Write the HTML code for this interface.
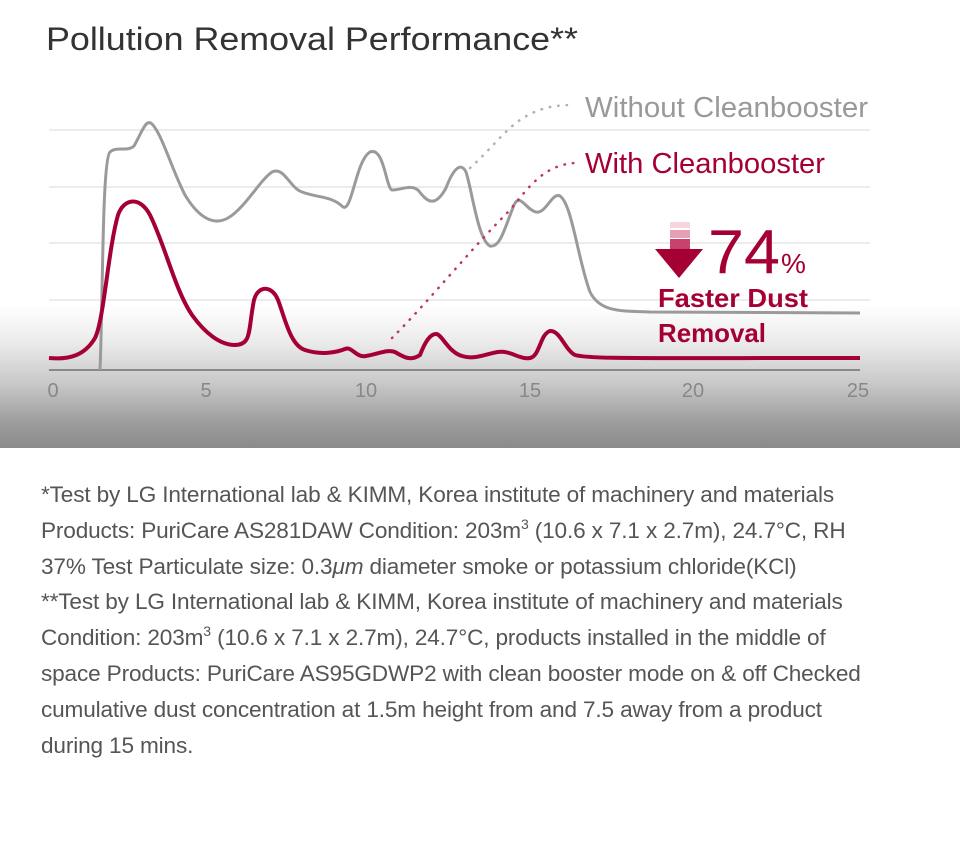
<!DOCTYPE html>
<html><head><meta charset="utf-8"><style>
body{margin:0;width:960px;height:864px;background:#fff;position:relative;overflow:hidden;font-family:"Liberation Sans",sans-serif}
.grad{position:absolute;left:0;top:305px;width:960px;height:143px;background:linear-gradient(#fff 0%,#ececec 25%,#c8c8c8 55%,#a0a0a0 80%,#8a8a8a 100%)}
svg{position:absolute;left:0;top:0}
.notes{position:absolute;left:41px;top:477px;font-size:22.6px;line-height:35.8px;color:#555;white-space:nowrap;letter-spacing:-0.15px}
sup{font-size:14px;vertical-align:0;position:relative;top:-9px;line-height:0}
</style></head><body>
<div class="grad"></div>
<svg width="960" height="450" viewBox="0 0 960 450">
<text x="46" y="50" font-size="32" fill="#333" font-family="Liberation Sans" textLength="532" lengthAdjust="spacingAndGlyphs">Pollution Removal Performance**</text>
<g stroke="#e6e6e6" stroke-width="1.5">
<line x1="49" y1="130" x2="870" y2="130"/><line x1="49" y1="187" x2="870" y2="187"/>
<line x1="49" y1="243" x2="870" y2="243"/><line x1="49" y1="300" x2="870" y2="300"/>
</g>
<line x1="49" y1="370" x2="860" y2="370" stroke="#888" stroke-width="2"/>
<g font-size="20" fill="#888" text-anchor="middle">
<text x="53" y="397">0</text><text x="206" y="397">5</text><text x="366" y="397">10</text>
<text x="530" y="397">15</text><text x="693" y="397">20</text><text x="858" y="397">25</text>
</g>
<path d="M100,370 C103,300 102,160 110,152 C116,146 128,152 134,146 C142,132 146,118 152,124 C162,134 172,170 185,195 C197,215 212,227 228,218 C245,208 260,180 272,172 C284,166 290,188 302,192 C318,198 332,196 343,207 C352,212 356,160 370,152 C384,146 386,188 392,190 C402,190 410,184 418,190 C426,200 434,210 446,188 C452,172 460,160 466,172 C472,190 478,240 490,246 C500,248 504,230 514,205 C520,192 526,210 536,212 C546,214 552,192 560,196 C572,204 578,260 590,292 C600,312 620,311 650,312 L860,313" fill="none" stroke="#9a9a9a" stroke-width="3"/>
<path d="M49,358 C70,360 85,355 95,338 C104,320 108,250 118,215 C124,198 140,196 150,215 C165,245 175,290 192,315 C205,333 220,345 235,345 C252,345 248,330 254,300 C258,285 272,285 278,300 C285,318 290,345 305,350 C320,355 335,353 345,349 C352,346 356,358 366,356 C378,354 388,349 395,352 C402,356 410,362 420,355 C425,342 430,334 436,334 C442,334 448,352 462,356 C475,360 485,354 498,352 C510,350 520,360 530,358 C540,356 540,334 550,331 C560,330 565,350 575,355 C590,359 620,358 860,358" fill="none" stroke="#a50034" stroke-width="4"/>
<path d="M470,168 C490,150 505,130 520,120 C535,110 550,105 572,105" fill="none" stroke="#b0b0b0" stroke-width="2.5" stroke-dasharray="0.5 8" stroke-linecap="round"/>
<path d="M392,338 C430,300 470,250 510,210 C530,185 545,165 575,163" fill="none" stroke="#c0336a" stroke-width="2.5" stroke-dasharray="0.5 8" stroke-linecap="round"/>
<text x="585" y="117" font-size="29" fill="#999" textLength="283" lengthAdjust="spacingAndGlyphs">Without Cleanbooster</text>
<text x="585" y="173" font-size="29" fill="#a50034" textLength="240" lengthAdjust="spacingAndGlyphs">With Cleanbooster</text>
<rect x="670" y="222" width="20" height="6" fill="#f5d5de"/>
<rect x="670" y="230" width="20" height="8" fill="#e6a0b5"/>
<rect x="670" y="239" width="20" height="10" fill="#c8426e"/>
<polygon points="655,249 703,249 679,278" fill="#a50034"/>
<text x="708" y="273" font-size="62" fill="#a50034" textLength="72" lengthAdjust="spacingAndGlyphs">74</text>
<text x="781" y="273" font-size="28" fill="#a50034">%</text>
<text x="658" y="307" font-size="26" font-weight="bold" fill="#a50034" textLength="150" lengthAdjust="spacingAndGlyphs">Faster Dust</text>
<text x="658" y="342" font-size="26" font-weight="bold" fill="#a50034" textLength="108" lengthAdjust="spacingAndGlyphs">Removal</text>
</svg>
<div class="notes">*Test by LG International lab &amp; KIMM, Korea institute of machinery and materials<br>Products: PuriCare AS281DAW Condition: 203m<sup>3</sup> (10.6 x 7.1 x 2.7m), 24.7°C, RH<br>37% Test Particulate size: 0.3<i>μm</i> diameter smoke or potassium chloride(KCl)<br>**Test by LG International lab &amp; KIMM, Korea institute of machinery and materials<br>Condition: 203m<sup>3</sup> (10.6 x 7.1 x 2.7m), 24.7°C, products installed in the middle of<br>space Products: PuriCare AS95GDWP2 with clean booster mode on &amp; off Checked<br>cumulative dust concentration at 1.5m height from and 7.5 away from a product<br>during 15 mins.</div>
</body></html>
